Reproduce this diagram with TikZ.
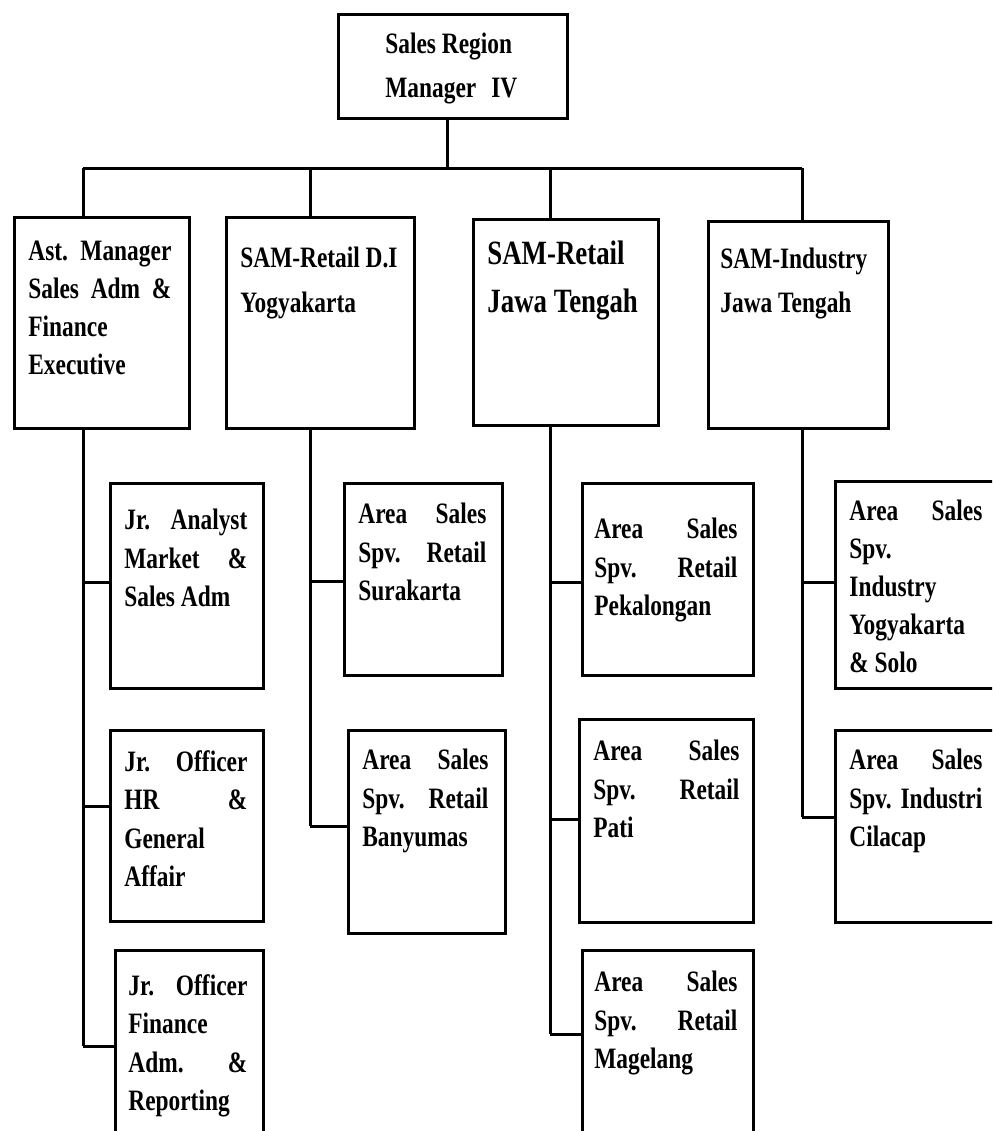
\documentclass[tikz,border=0pt]{standalone}
\usepackage{fontspec}
\setmainfont{Liberation Serif}[FakeStretch=0.79]

\newcommand{\boxfont}[1]{\fontsize{14.8pt}{#1}\selectfont\bfseries\frenchspacing}

\tikzset{
    unit/.style={draw, line width=1.5pt, inner sep=0pt, anchor=north west},
    txt/.style={anchor=north west, inner sep=0pt},
    link/.style={line width=1.5pt},
}

\begin{document}
\begin{tikzpicture}[x=0.5pt, y=-0.5pt]
    % 1 unit = 1 px of the page, y grows downwards
    % box size in pt = px * 0.5
    \useasboundingbox (0, 0) rectangle (992, 1131);
    \clip (0, 0) rectangle (992, 1131);

    % head: 229 x 104
    \node[unit, minimum width=114.5pt, minimum height=52pt] (srm) at (337, 13) {};
    \node[txt, align=left, font=\boxfont{22pt}] (srm-t) at (385, 33) {Sales Region\\Manager\hspace{7.5pt}IV};

    % second level:
    % text top = first baseline - 20
    % 175 x 211
    \node[unit, minimum width=87.5pt, minimum height=105.5pt] (asm) at (13, 216) {};
    \node[txt, align=justify, text width=71.5pt, font=\boxfont{18.9pt}] (asm-t) at (28, 241) {Ast. Manager\linebreak Sales Adm \&\linebreak Finance\\Executive};

    % 188 x 211
    \node[unit, minimum width=94pt, minimum height=105.5pt] (samr1) at (225, 216) {};
    \node[txt, align=left, font=\boxfont{22.5pt}] (samr1-t) at (240, 247) {SAM-Retail D.I\\Yogyakarta};

    % 185 x 206
    \node[unit, minimum width=92.5pt, minimum height=103pt] (samr2) at (472, 218) {};
    \node[txt, align=left, font=\fontsize{17pt}{24.5pt}\selectfont\bfseries] (samr2-t) at (487, 240) {SAM-Retail\\Jawa Tengah};

    % 180 x 207
    \node[unit, minimum width=90pt, minimum height=103.5pt] (sami) at (707, 220) {};
    \node[txt, align=left, font=\boxfont{22pt}] (sami-t) at (720, 248) {SAM-Industry\\Jawa Tengah};

    % third level, column 1:
    % 153 x 205
    \node[unit, minimum width=76.5pt, minimum height=102.5pt] (jra) at (109, 482) {};
    \node[txt, align=justify, text width=61.5pt, font=\boxfont{19.2pt}] (jra-t) at (124, 509) {Jr. Analyst\linebreak Market \&\linebreak Sales Adm};

    % 153 x 191
    \node[unit, minimum width=76.5pt, minimum height=95.5pt] (jrh) at (109, 729) {};
    \node[txt, align=justify, text width=61.5pt, font=\boxfont{19.2pt}] (jrh-t) at (124, 750) {Jr. Officer\linebreak HR \&\linebreak General\\Affair};

    % 148 x 250
    \node[unit, minimum width=74pt, minimum height=125pt] (jrf) at (114, 949) {};
    \node[txt, align=justify, text width=59.5pt, font=\boxfont{19.2pt}] (jrf-t) at (128, 974) {Jr. Officer\linebreak Finance\\Adm. \&\linebreak Reporting};

    % column 2:
    % 158 x 192
    \node[unit, minimum width=79pt, minimum height=96pt] (ass1) at (343, 482) {};
    \node[txt, align=justify, text width=64pt, font=\boxfont{19.2pt}] (ass1-t) at (358, 503) {Area Sales\linebreak Spv. Retail\linebreak Surakarta};

    % 157 x 203
    \node[unit, minimum width=78.5pt, minimum height=101.5pt] (ass2) at (347, 729) {};
    \node[txt, align=justify, text width=63pt, font=\boxfont{19.2pt}] (ass2-t) at (362, 749) {Area Sales\linebreak Spv. Retail\linebreak Banyumas};

    % column 3:
    % 171 x 192
    \node[unit, minimum width=85.5pt, minimum height=96pt] (asp1) at (581, 482) {};
    \node[txt, align=justify, text width=71.5pt, font=\boxfont{19.2pt}] (asp1-t) at (594, 518) {Area Sales\linebreak Spv. Retail\linebreak Pekalongan};

    % 174 x 203
    \node[unit, minimum width=87pt, minimum height=101.5pt] (asp2) at (578, 718) {};
    \node[txt, align=justify, text width=73pt, font=\boxfont{19.2pt}] (asp2-t) at (593, 740) {Area Sales\linebreak Spv. Retail\linebreak Pati};

    % 171 x 250
    \node[unit, minimum width=85.5pt, minimum height=125pt] (asp3) at (581, 949) {};
    \node[txt, align=justify, text width=71.5pt, font=\boxfont{19.2pt}] (asp3-t) at (594, 971) {Area Sales\linebreak Spv. Retail\linebreak Magelang};

    % column 4 (cut by the right edge):
    % 200 x 207
    \node[unit, minimum width=100pt, minimum height=103.5pt] (asi1) at (834, 480) {};
    \node[txt, align=justify, text width=66.5pt, font=\boxfont{18.9pt}] (asi1-t) at (849, 500) {Area Sales\linebreak Spv.\\Industry\\Yogyakarta\\\& Solo};

    % 200 x 192
    \node[unit, minimum width=100pt, minimum height=96pt] (asi2) at (834, 729) {};
    \node[txt, align=justify, text width=66.5pt, font=\boxfont{19.2pt}] (asi2-t) at (849, 749) {Area Sales\linebreak Spv. Industri\linebreak Cilacap};

    % bar under the head
    \coordinate (hub) at (447, 168);
    \coordinate (t1) at (83, 168);
    \coordinate (t2) at (310, 168);
    \coordinate (t3) at (550, 168);
    \coordinate (t4) at (802, 168);
    \draw[link] (hub |- srm.south) -- (hub);
    \draw[link] (t1) -- (t4);
    \foreach \t/\b in {t1/asm, t2/samr1, t3/samr2, t4/sami}
        \draw[link] (\t) -- (\t |- \b.north);

    % branches
    \foreach \n/\x/\y in {jra/83/582, jrh/83/806, jrf/83/1046,
                          ass1/310/581, ass2/310/826,
                          asp1/550/582, asp2/550/819, asp3/550/1034,
                          asi1/802/582, asi2/802/817} {
        \coordinate (b-\n) at (\x, \y);
        \draw[link] (b-\n) -- (b-\n -| \n.west);
    }

    % trunks
    \draw[link] (t1 |- asm.south) -- (b-jrf);
    \draw[link] (t2 |- samr1.south) -- (b-ass2);
    \draw[link] (t3 |- samr2.south) -- (b-asp3);
    \draw[link] (t4 |- sami.south) -- (b-asi2);
\end{tikzpicture}
\end{document}
